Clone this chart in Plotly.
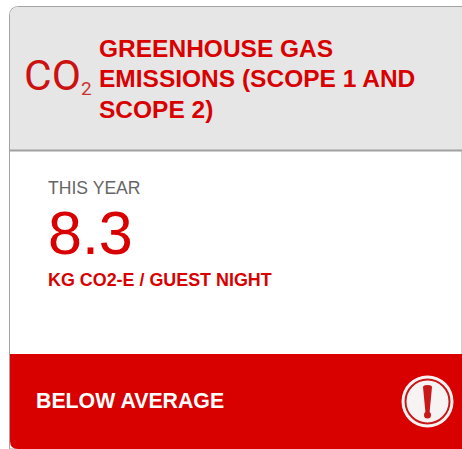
import plotly.graph_objects as go

RED = "#d90000"
TITLE_LINES = ["GREENHOUSE GAS", "EMISSIONS (SCOPE 1 AND", "SCOPE 2)"]
PERIOD_LABEL = "THIS YEAR"
VALUE_TEXT = "8.3"
UNIT_TEXT = "KG CO2-E / GUEST NIGHT"
STATUS_TEXT = "BELOW AVERAGE"

fig = go.Figure()
shapes = [
    dict(type="path", path="M 9.5 449 L 9.5 16 Q 9.5 6.5 19 6.5 L 462 6.5 L 462 449 Z",
         fillcolor="white", line=dict(color="#a3a3a3", width=1)),
    dict(type="path", path="M 10 150 L 10 16 Q 10 7 19 7 L 462 7 L 462 150 Z",
         fillcolor="#e6e6e6", line=dict(width=0)),
    dict(type="rect", x0=10, x1=462, y0=149.5, y1=151.5, fillcolor="#a0a0a0", line=dict(width=0)),
    dict(type="path", path="M 10 354 L 462 354 L 462 449 L 18 449 Q 10 449 10 441 Z",
         fillcolor=RED, line=dict(width=0)),
    dict(type="circle", x0=401.5, x1=453.5, y0=375.5, y1=427.5, fillcolor="#f7f3f3", line=dict(width=0)),
    dict(type="circle", x0=405.5, x1=449.5, y0=379.5, y1=423.5, fillcolor="#f7f3f3",
         line=dict(color="#c81818", width=2)),
    dict(type="path", path="M 423 387 Q 423 385 427.5 385 Q 432 385 432 387 L 429.5 413 L 425.5 413 Z",
         fillcolor="#c81818", line=dict(width=0)),
    dict(type="circle", x0=424, x1=431, y0=411.5, y1=418.5, fillcolor="#c81818", line=dict(width=0)),
]


def label(x, y, text, size, color, bold=False, family="Liberation Sans"):
    shown = f"<b>{text}</b>" if bold else text
    fig.add_annotation(x=x, y=y, text=shown, showarrow=False, xanchor="left", yanchor="middle",
                       xref="x", yref="y", align="left", borderpad=0, borderwidth=0,
                       font=dict(size=size, color=color, family=family))


for y, line in zip([48.5, 78.5, 109.5], TITLE_LINES):
    label(99, y, line, 24.5, RED, True)
label(24, 75, "CO", 42.5, "#cc1111", family="Roboto")
label(81, 88, "2", 19, "#cc3333", family="Roboto")
label(48, 188, PERIOD_LABEL, 17.6, "#666666")
label(48, 233, VALUE_TEXT, 61, RED)
label(48, 280, UNIT_TEXT, 17.9, RED, True)
label(36, 401, STATUS_TEXT, 21.3, "white", True)

fig.update_layout(
    width=462, height=449, autosize=False,
    margin=dict(l=0, r=0, t=0, b=0),
    paper_bgcolor="white", plot_bgcolor="white",
    shapes=shapes, showlegend=False,
    xaxis=dict(visible=False, range=[0, 462], fixedrange=True),
    yaxis=dict(visible=False, range=[449, 0], fixedrange=True),
)
fig.write_html("out.html", config=dict(displayModeBar=False),
               post_script="document.body.style.margin='0';document.body.style.overflow='hidden';")
